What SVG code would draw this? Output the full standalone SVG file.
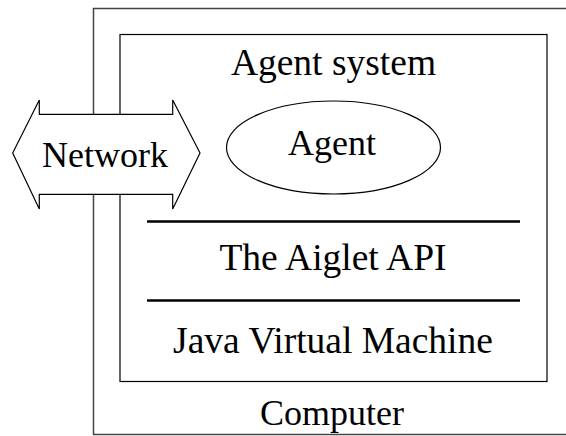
<svg xmlns="http://www.w3.org/2000/svg" width="566" height="436" viewBox="0 0 566 436">
<style>
text{font-family:"Liberation Serif","Times New Roman",serif;font-size:36px;fill:#000;text-anchor:middle}
.big{font-size:37.5px}
.box{fill:none;stroke:#000;stroke-width:1.2}
.outer{fill:none;stroke:#444;stroke-width:1.5}
.sep{stroke:#000;stroke-width:2.6}
</style>
<rect width="566" height="436" fill="#fff"/>
<g id="computer">
<rect class="outer" x="93.5" y="8.5" width="480" height="426"/>
<text x="332" y="425">Computer</text>
</g>
<g id="agent-system">
<rect class="box" x="120" y="34.5" width="427" height="347"/>
<text class="big" x="333.5" y="75">Agent system</text>
</g>
<g id="agent">
<ellipse class="box" cx="333.5" cy="147.5" rx="107" ry="46.5"/>
<text x="332" y="155">Agent</text>
</g>
<g id="connectors">
<line class="sep" x1="147" y1="221.5" x2="520" y2="221.5"/>
<line class="sep" x1="147" y1="300.5" x2="520" y2="300.5"/>
</g>
<g id="aiglet-api">
<text class="big" x="333" y="270">The Aiglet API</text>
</g>
<g id="jvm">
<text class="big" x="333" y="353">Java Virtual Machine</text>
</g>
<g id="network">
<polygon points="12.7,153 39.3,100 39.3,114.3 172.7,114.3 172.7,100 200,153 172.7,209 172.7,194.3 39.3,194.3 39.3,209" fill="#fff" stroke="#000" stroke-width="1.2"/>
<text x="105" y="167">Network</text>
</g>
</svg>
